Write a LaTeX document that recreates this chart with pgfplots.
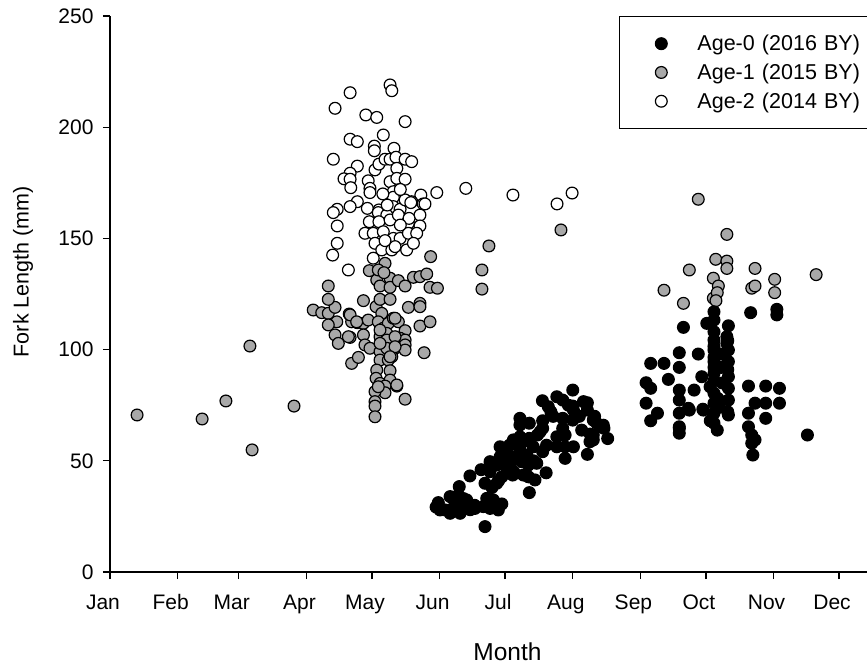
\documentclass[border=0pt]{standalone}
\usepackage{fontspec}
\setmainfont{Liberation Sans}
\usepackage{pgfplots}
\pgfplotsset{compat=1.18}
\definecolor{agegray}{RGB}{168,168,168}
\begin{document}
\begin{tikzpicture}
\useasboundingbox (-110pt,-93pt) rectangle (757pt,572pt);
\begin{axis}[
 scale only axis, width=757pt, height=556pt,
 xmin=0, xmax=346.8, ymin=0, ymax=250,
 clip=false,
 axis x line=bottom, axis y line=left,
 axis line style={-, line width=1.3pt, black},
 tick style={line width=1.3pt, black}, tick align=outside, major tick length=7pt,
 xtick={0,31,59,90,120,151,181,212,243,273,304,334},
 xticklabels={Jan,Feb,Mar,Apr,May,Jun,Jul,Aug,Sep,Oct,Nov,Dec},
 ytick={0,50,100,150,200,250},
 minor tick num=0,
 ticklabel style={font=\fontsize{21}{25}\selectfont},
 xticklabel style={xshift=-7pt, yshift=-10.5pt, text height=16pt, text depth=5pt},
 yticklabel style={xshift=-6pt},
 /pgf/number format/assume math mode=true,
 xlabel={Month}, ylabel={Fork Length (mm)},
 xlabel style={font=\fontsize{24.5}{28}\selectfont, at={(axis description cs:0.5251,-0.1439)}, anchor=center},
 ylabel style={font=\fontsize{21.5}{25}\selectfont, at={(axis description cs:-0.1149,0.54)}, anchor=center},
 legend style={at={(axis description cs:0.6724,1)}, anchor=north west, draw=black,
   line width=1.3pt, font=\fontsize{21.5}{25}\selectfont, inner xsep=0pt, inner ysep=15pt,
   row sep=4.7pt, nodes={inner xsep=2pt, inner ysep=3.5pt, text width=180pt, align=left}, legend cell align=left},
 legend image code/.code={\path (0pt,0pt) (74.5pt,0pt); \draw[mark repeat=2,mark phase=2,#1] plot coordinates {(0pt,0pt)(41pt,0pt)(74.5pt,0pt)};},
 reverse legend,
]
% Age-2 (white)
\addplot[only marks, mark=*, mark size=5.9pt, mark options={draw=black, fill=white, line width=1.2pt}] table[row sep=\\] {
x y\\
110.0 215.5\\ 128.3 219.0\\ 129.1 216.4\\ 103.1 208.5\\ 117.2 205.5\\ 122.2 204.4\\ 135.2 202.5\\
125.2 196.5\\ 110.0 194.6\\ 113.3 193.5\\ 121.1 191.5\\ 121.1 189.4\\ 130.1 190.5\\ 102.3 185.6\\
113.3 182.5\\ 110.0 179.3\\ 107.2 176.8\\ 110.0 176.6\\ 121.4 180.8\\ 123.2 183.4\\ 126.0 185.6\\
128.3 185.6\\ 131.0 186.5\\ 135.2 185.6\\ 138.2 184.5\\ 131.4 181.5\\ 118.3 175.9\\ 119.1 172.5\\
119.1 170.6\\ 128.3 175.5\\ 131.4 177.0\\ 135.2 176.6\\ 110.3 172.8\\ 129.8 171.0\\ 129.8 168.5\\
142.4 169.5\\ 149.7 170.6\\ 163.0 172.5\\ 113.3 166.5\\ 138.2 166.5\\ 143.5 165.5\\ 104.1 163.1\\
110.0 164.3\\ 117.9 163.5\\ 123.2 162.8\\ 129.8 164.3\\ 132.9 163.1\\ 135.2 167.3\\ 102.3 161.6\\
122.9 161.6\\ 126.8 160.5\\ 137.8 166.1\\ 142.0 160.5\\ 144.3 165.5\\ 104.1 155.6\\ 118.8 157.5\\
123.2 157.5\\ 128.3 158.3\\ 132.1 160.5\\ 136.7 156.8\\ 142.0 155.6\\ 116.8 152.3\\ 120.6 152.3\\
125.2 153.0\\ 129.8 150.0\\ 132.9 150.0\\ 136.7 152.3\\ 140.5 152.3\\ 104.1 147.8\\ 102.0 142.5\\
121.4 147.8\\ 124.5 144.8\\ 129.1 144.8\\ 130.6 146.3\\ 135.9 144.8\\ 139.0 147.8\\ 109.2 135.8\\
120.6 141.1\\ 125.0 170.0\\ 127.0 165.0\\ 133.0 172.0\\ 137.0 159.0\\ 126.0 149.0\\ 133.0 156.0\\
184.6 169.5\\ 204.8 165.5\\ 211.7 170.4\\
};
\addlegendentry{Age-2 (2014 BY)}
% Age-1 (gray)
\addplot[only marks, mark=*, mark size=5.9pt, mark options={draw=black, fill=agegray, line width=1.2pt}] table[row sep=\\] {
x y\\
12.4 70.6\\ 42.2 68.8\\ 53.1 76.9\\ 64.1 101.6\\ 65.1 54.9\\ 84.3 74.6\\
93.1 117.8\\ 97.0 116.6\\ 100.0 116.3\\ 103.1 119.0\\ 103.9 112.5\\ 100.0 111.1\\ 100.0 122.6\\
100.0 128.6\\ 103.1 106.6\\ 104.6 102.8\\ 110.0 105.5\\ 109.6 116.0\\ 110.7 112.5\\ 113.3 112.1\\
116.1 111.8\\ 118.3 113.3\\ 116.1 106.6\\ 116.8 102.1\\ 119.1 100.6\\ 116.1 122.0\\ 110.0 115.6\\
113.0 112.5\\ 110.7 93.8\\ 113.8 96.5\\ 109.2 105.8\\
121.9 119.3\\ 124.5 116.3\\ 122.9 112.5\\ 125.2 109.6\\ 123.7 105.8\\ 124.5 102.8\\ 123.7 99.1\\
123.7 95.3\\ 127.5 111.8\\ 129.8 114.1\\ 132.1 112.5\\ 135.2 108.5\\ 132.9 105.1\\ 130.6 100.6\\
129.1 96.8\\ 127.5 95.3\\ 135.2 104.3\\ 135.2 102.1\\ 135.2 99.8\\ 136.7 119.0\\ 142.0 120.8\\
142.0 110.6\\ 146.6 112.5\\ 143.9 98.6\\ 122.2 90.8\\ 121.9 87.1\\ 123.7 84.8\\ 128.3 90.5\\
128.3 86.3\\ 131.4 83.6\\ 126.0 83.6\\ 126.0 80.6\\ 121.4 81.1\\ 121.4 76.6\\ 121.4 74.6\\
121.4 69.8\\ 135.2 77.7\\ 122.2 131.3\\ 123.7 128.6\\ 128.3 132.1\\ 128.3 128.0\\ 132.1 131.0\\
135.2 128.6\\ 139.0 132.5\\ 142.0 132.8\\ 145.1 134.0\\ 146.6 128.0\\ 150.0 127.6\\ 126.0 138.8\\
118.8 135.5\\ 122.9 135.8\\ 125.5 134.6\\ 146.9 141.8\\ 123.7 122.6\\ 128.3 122.6\\ 142.0 119.3\\
126.8 107.3\\ 126.8 104.3\\ 126.8 100.6\\ 130.6 105.8\\ 130.6 101.3\\ 123.7 108.8\\ 123.7 102.8\\
130.6 114.1\\ 128.3 96.8\\ 131.4 84.1\\ 122.9 83.3\\
170.4 135.8\\ 170.4 127.2\\ 173.6 146.6\\ 206.6 153.8\\
269.5 167.6\\ 282.6 151.8\\ 277.5 140.6\\ 282.6 139.8\\ 282.6 136.5\\ 265.4 135.8\\ 295.5 136.5\\
276.4 132.1\\ 278.7 128.6\\ 304.5 131.6\\ 323.5 133.7\\ 253.8 126.7\\ 294.0 127.6\\ 295.5 128.6\\
304.5 125.6\\ 262.7 120.8\\ 276.4 123.1\\ 278.2 125.6\\ 277.6 122.0\\
};
\addlegendentry{Age-1 (2015 BY)}
% Age-0 (black)
\addplot[only marks, mark=*, mark size=5.9pt, mark options={draw=black, fill=black, line width=1.2pt}] table[row sep=\\] {
x y\\
212.0 81.8\\ 198.1 77.0\\ 200.8 74.3\\ 204.7 78.8\\ 207.4 77.3\\ 212.0 74.6\\ 218.7 76.1\\ 218.7 72.8\\
187.8 69.1\\ 187.8 66.1\\ 192.1 66.9\\ 198.2 68.0\\ 198.2 64.6\\ 207.4 69.1\\ 212.0 68.3\\ 207.4 64.6\\
216.1 63.8\\ 223.0 66.9\\ 226.3 64.6\\ 221.4 61.6\\ 219.9 58.6\\ 184.8 59.4\\ 187.8 60.8\\ 192.1 60.1\\
195.8 61.6\\ 204.7 60.8\\ 204.7 56.3\\ 208.5 61.6\\ 208.5 56.3\\ 212.3 56.3\\ 208.5 51.1\\ 218.7 52.9\\
178.7 56.3\\ 181.8 53.4\\ 178.7 51.8\\ 187.8 55.6\\ 190.9 52.6\\ 193.9 56.3\\ 198.2 54.1\\
174.1 49.6\\ 177.2 48.1\\ 181.8 48.9\\ 184.8 50.4\\ 188.6 49.6\\ 191.7 48.1\\ 195.5 48.9\\
174.1 45.1\\ 179.5 42.8\\ 177.2 39.9\\ 184.5 43.6\\ 189.4 43.6\\ 191.7 42.8\\ 194.7 41.4\\ 199.8 44.6\\
164.9 43.2\\ 160.0 38.4\\ 171.8 39.9\\ 192.1 35.7\\ 155.8 33.9\\ 159.6 34.6\\ 163.4 32.4\\ 167.2 28.6\\
150.4 31.2\\ 151.2 27.9\\ 155.8 27.9\\ 160.4 29.4\\ 172.6 33.1\\ 175.6 32.4\\ 179.5 30.6\\ 171.0 29.4\\
174.1 28.6\\ 177.9 27.9\\ 149.4 29.2\\ 155.8 26.4\\ 160.4 26.4\\ 171.8 20.4\\
216.9 76.6\\ 224.5 65.3\\ 221.4 68.3\\ 212.3 72.8\\ 221.4 59.4\\
183.0 57.0\\ 186.0 52.0\\ 190.0 59.0\\ 185.0 45.0\\ 175.0 38.0\\ 167.0 30.0\\ 178.0 41.0\\ 182.0 46.0\\
170.0 46.0\\ 194.0 50.0\\ 200.0 57.0\\ 197.0 63.0\\ 203.0 70.0\\ 210.0 75.0\\ 202.0 72.0\\ 215.0 70.0\\
222.0 70.0\\ 220.0 62.0\\ 228.0 60.0\\ 226.0 66.0\\ 158.0 30.0\\ 153.0 28.0\\ 165.0 28.0\\ 162.0 33.0\\
262.7 110.0\\ 260.8 98.6\\ 269.5 98.0\\ 247.7 93.8\\ 253.8 93.8\\ 260.8 92.0\\ 255.8 86.6\\ 245.6 85.1\\
247.7 82.6\\ 260.8 81.8\\ 267.6 81.8\\ 245.6 75.9\\ 250.8 71.4\\ 247.7 68.0\\ 260.8 77.3\\ 260.8 71.4\\
260.8 64.6\\ 265.0 73.6\\ 271.6 73.2\\ 293.5 116.6\\ 305.5 118.1\\ 305.5 115.6\\ 276.7 117.0\\
276.7 113.3\\ 273.4 111.8\\ 283.3 110.7\\ 276.7 108.0\\ 276.7 104.3\\ 282.6 105.8\\ 282.6 102.8\\
276.7 99.8\\ 283.3 99.8\\ 276.7 94.6\\ 283.3 94.6\\ 271.1 87.8\\ 276.7 89.3\\ 283.3 87.8\\ 274.9 83.3\\
276.7 80.4\\ 283.3 82.6\\ 292.5 83.6\\ 300.4 83.6\\ 306.7 82.6\\ 276.7 75.9\\ 283.3 77.3\\ 295.5 75.9\\
300.4 75.9\\ 306.7 75.9\\ 276.7 71.4\\ 283.3 70.6\\ 292.5 71.4\\ 300.4 69.1\\ 260.8 65.3\\ 260.8 62.4\\
276.7 66.9\\ 278.2 63.8\\ 292.5 65.3\\ 294.0 61.6\\ 294.0 57.9\\ 294.5 52.6\\ 295.5 59.4\\ 319.5 61.6\\
265.4 72.8\\ 271.8 72.8\\
276.7 101.5\\ 276.7 96.5\\ 276.7 92.0\\ 276.7 86.0\\ 278.5 78.0\\ 279.0 74.0\\ 275.0 68.0\\ 280.0 92.0\\
280.0 98.0\\ 283.0 91.0\\ 283.0 104.0\\ 283.0 72.0\\ 280.5 85.0\\
};
\addlegendentry{Age-0 (2016 BY)}
\end{axis}
\end{tikzpicture}
\end{document}
